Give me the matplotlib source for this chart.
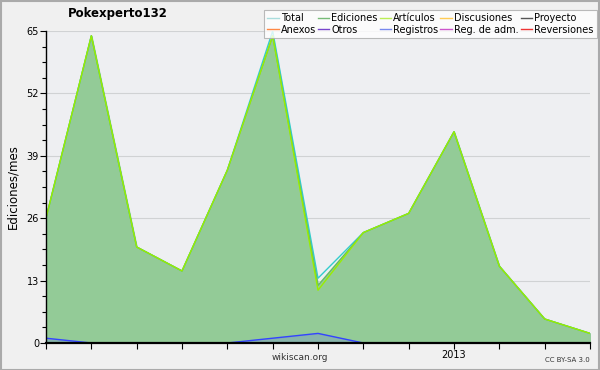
import matplotlib
matplotlib.use("Agg")
import matplotlib.pyplot as plt
from matplotlib.lines import Line2D
import numpy as np

# monthly edits, Apr 2012 .. Apr 2013
months = list(range(13))
tick_labels = ["", "", "", "", "", "", "", "", "", "2013", "", "", ""]
total = [26, 64, 20, 15, 36, 65, 13.5, 23, 27, 44, 16, 5, 2]
ediciones = [26, 64, 20, 15, 36, 64, 12, 23, 27, 44, 16, 5, 2]
articulos = [26, 64, 20, 15, 36, 64, 11, 23, 27, 44, 16, 5, 2]
registros = [1, 0, 0, 0, 0, 1, 2, 0, 0, 0, 0, 0, 0]

legend_names = ["Total", "Ediciones", "Artículos", "Discusiones", "Proyecto",
                "Anexos", "Otros", "Registros", "Reg. de adm.", "Reversiones"]
legend_colors = ["#aadddd", "#77bb77", "#bbee55", "#ffcc55", "#555555",
                 "#ff8844", "#7744cc", "#7788ee", "#cc55cc", "#ee3333"]

fig = plt.figure(figsize=(6, 3.7), dpi=100, facecolor="#f0f0f0")
ax = fig.add_axes([46 / 600, 1 - 343 / 370, 544 / 600, 312 / 370])
ax.set_facecolor("#eeeff2")

ax.fill_between(months, 0, ediciones, color="#93cb97", zorder=1)
ax.fill_between(months, 0, registros, color="#7fa0c0", alpha=0.5, zorder=1.1)
ax.plot(months, total, color="#33cccc", lw=1.0, zorder=2)
ax.plot(months, ediciones, color="#66bb66", lw=1.0, zorder=2)
ax.plot(months, articulos, color="#99ee00", lw=1.0, zorder=2)
ax.plot(months, registros, color="#3344ff", lw=1.0, zorder=2)

ax.set_xlim(0, 12)
ax.set_ylim(0, 65)
ax.set_yticks([0, 13, 26, 39, 52, 65])
ax.set_yticks(np.arange(0, 65, 3.25), minor=True)
ax.set_xticks(months)
ax.set_xticklabels(tick_labels)
ax.grid(axis="y", color="#d0d2d4", lw=0.8)
ax.set_axisbelow(True)
ax.tick_params(axis="both", labelsize=7, colors="#000000", length=4, width=0.8, pad=1)
ax.tick_params(axis="y", which="minor", length=3, width=0.8)
for s in ["top", "right"]:
    ax.spines[s].set_visible(False)
ax.spines["left"].set_linewidth(1.0)
ax.spines["bottom"].set_linewidth(1.6)
for s in ["left", "bottom"]:
    ax.spines[s].set_zorder(3)

ax.set_ylabel("Ediciones/mes", fontsize=8.5, labelpad=5)
fig.text(118 / 600, 1 - 14 / 370, "Pokexperto132", fontsize=8.5, fontweight="bold",
         ha="center", va="center")
fig.text(300 / 600, 1 - 358 / 370, "wikiscan.org", fontsize=6.5, ha="center",
         va="center", color="#333333")
fig.text(590 / 600, 1 - 360 / 370, "CC BY-SA 3.0", fontsize=5, ha="right",
         va="center", color="#333333")

handles = [Line2D([0], [0], color=c, lw=1) for c in legend_colors]
order = [0, 5, 1, 6, 2, 7, 3, 8, 4, 9]
leg = fig.legend([handles[i] for i in order], [legend_names[i] for i in order],
                 ncol=5, loc="upper right", bbox_to_anchor=(597 / 600, 1 - 10 / 370),
                 fontsize=7, frameon=True, fancybox=False, handlelength=1.2,
                 handletextpad=0.2, columnspacing=0.2, labelspacing=0.15,
                 borderpad=0.35, borderaxespad=0)
leg.get_frame().set_edgecolor("#aaaaaa")
leg.get_frame().set_facecolor("#ffffff")
leg.get_frame().set_linewidth(0.8)

fig.patches.append(plt.Rectangle((0.001, 0.001), 0.998, 0.997, transform=fig.transFigure,
                                 fill=False, edgecolor="#aaaaaa", lw=1.5))
fig.savefig("out.png", dpi=100, facecolor=fig.get_facecolor())
